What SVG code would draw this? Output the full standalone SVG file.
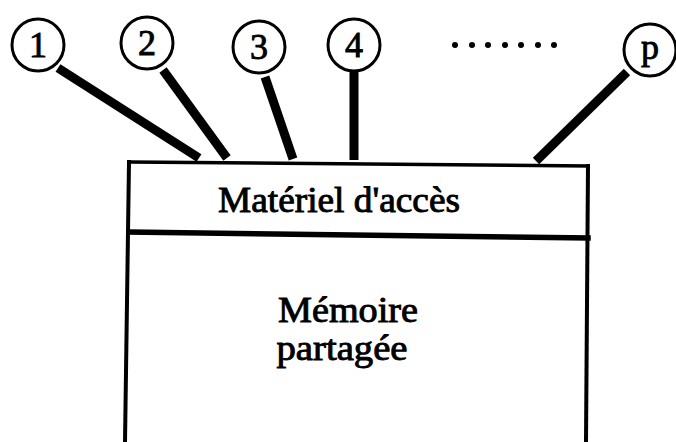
<svg xmlns="http://www.w3.org/2000/svg" width="676" height="442" viewBox="0 0 676 442">
  <style>
    .proc circle { fill: #fff; stroke: #000; stroke-width: 3; }
    .proc text { font-family: "Liberation Serif", "Times New Roman", serif; font-size: 36px; text-anchor: middle; fill: #000; stroke: #000; stroke-width: 0.9; }
    .bus { stroke: #000; stroke-width: 9; stroke-linecap: butt; fill: none; }
    .edge { stroke: #000; fill: none; stroke-linecap: square; }
    .label { font-family: "Liberation Serif", "Times New Roman", serif; font-size: 35px; fill: #000; stroke: #000; stroke-width: 0.9; }
  </style>
  <rect width="676" height="442" fill="#fff"/>

  <!-- connectors: processor links to the access hardware -->
  <g id="connectors">
    <line class="bus" x1="58" y1="68" x2="199" y2="158"/>
    <line class="bus" x1="163" y1="70" x2="227" y2="158"/>
    <line class="bus" x1="265" y1="77" x2="293" y2="159"/>
    <line class="bus" x1="354" y1="72" x2="354" y2="160"/>
    <line class="bus" x1="627" y1="72" x2="536" y2="161"/>
  </g>

  <!-- processors -->
  <g id="p1" class="proc"><circle cx="38" cy="45" r="26"/><text x="38" y="57">1</text></g>
  <g id="p2" class="proc"><circle cx="147" cy="43" r="26"/><text x="147" y="55">2</text></g>
  <g id="p3" class="proc"><circle cx="259" cy="47" r="26"/><text x="259" y="59">3</text></g>
  <g id="p4" class="proc"><circle cx="354" cy="45" r="26"/><text x="354" y="57">4</text></g>
  <g id="pp" class="proc"><circle cx="650" cy="50" r="26"/><text x="650" y="59">p</text></g>

  <!-- ellipsis between processor 4 and p -->
  <g id="ellipsis" fill="#000">
    <circle cx="455" cy="45" r="3"/>
    <circle cx="472" cy="45" r="3"/>
    <circle cx="488" cy="45" r="3"/>
    <circle cx="505" cy="45" r="3"/>
    <circle cx="521" cy="45" r="3"/>
    <circle cx="538" cy="45" r="3"/>
    <circle cx="554" cy="45" r="3"/>
  </g>

  <!-- access hardware -->
  <g id="access">
    <line class="edge" x1="129" y1="162" x2="588" y2="166" stroke-width="3.5"/>
    <text class="label" x="339" y="212" text-anchor="middle" textLength="242" lengthAdjust="spacingAndGlyphs">Matériel d'accès</text>
  </g>

  <!-- shared memory -->
  <g id="memory">
    <line class="edge" x1="129" y1="232" x2="588" y2="238" stroke-width="5.5"/>
    <line class="edge" x1="129" y1="162" x2="125" y2="442" stroke-width="4"/>
    <line class="edge" x1="588" y1="166" x2="586" y2="442" stroke-width="4"/>
    <text class="label" x="348" y="322" text-anchor="middle" textLength="140" lengthAdjust="spacingAndGlyphs">Mémoire</text>
    <text class="label" x="342" y="360" text-anchor="middle" textLength="131" lengthAdjust="spacingAndGlyphs">partagée</text>
  </g>
</svg>
